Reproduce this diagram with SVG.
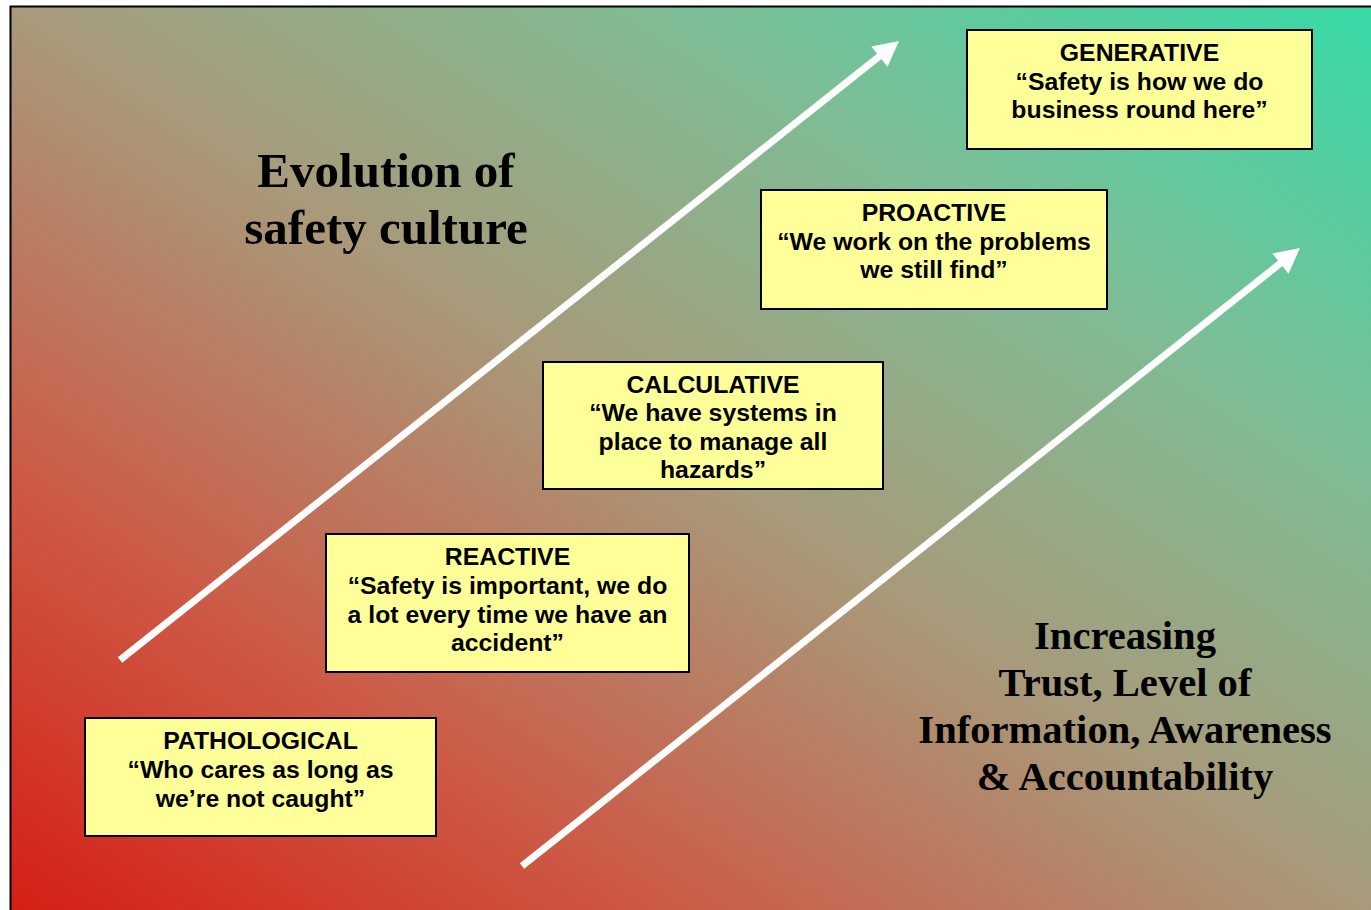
<svg xmlns="http://www.w3.org/2000/svg" width="1371" height="910" viewBox="0 0 1371 910">
<defs>
<linearGradient id="bg" x1="0" y1="1" x2="1" y2="0">
<stop offset="0" stop-color="#d61e14"/>
<stop offset="0.25" stop-color="#cc5c48"/>
<stop offset="0.5" stop-color="#a89a7a"/>
<stop offset="0.75" stop-color="#7cbe96"/>
<stop offset="1" stop-color="#36daa8"/>
</linearGradient>
<style>
.box{fill:#ffff99;stroke:#000;stroke-width:2}
.bt{font-family:"Liberation Sans",Arial,sans-serif;font-weight:bold;font-size:24.8px;fill:#000;text-anchor:middle}
.tt{font-family:"Liberation Serif","Times New Roman",serif;font-weight:bold;fill:#000;text-anchor:middle}
.shaft{stroke:#fff;stroke-width:7;fill:none}
.head{fill:#fff}
</style>
</defs>
<rect x="0" y="0" width="1371" height="910" fill="#fff"/>
<rect x="10.5" y="6.5" width="1370" height="910" fill="url(#bg)" stroke="#000" stroke-width="2"/>

<g id="connectors">
<line class="shaft" x1="120" y1="660" x2="881" y2="55"/>
<polygon class="head" points="899,41 887.5,66.7 871.3,46.4"/>
<line class="shaft" x1="522" y1="866" x2="1282" y2="262"/>
<polygon class="head" points="1300,248 1288.5,273.7 1272.3,253.4"/>
</g>

<g id="title">
<text class="tt" font-size="49" x="386" y="187">Evolution of</text>
<text class="tt" font-size="49" x="386" y="244">safety culture</text>
</g>

<g id="increasing">
<text class="tt" font-size="40.6" x="1125" y="649">Increasing</text>
<text class="tt" font-size="40.6" x="1125" y="696">Trust, Level of</text>
<text class="tt" font-size="40.6" x="1125" y="743">Information, Awareness</text>
<text class="tt" font-size="40.6" x="1125" y="790">&amp; Accountability</text>
</g>

<g id="pathological">
<rect class="box" x="85" y="718" width="351" height="118"/>
<text class="bt" x="260.5" y="749">PATHOLOGICAL</text>
<text class="bt" x="260.5" y="778">“Who cares as long as</text>
<text class="bt" x="260.5" y="807">we’re not caught”</text>
</g>

<g id="reactive">
<rect class="box" x="326" y="534" width="363" height="138"/>
<text class="bt" x="507.5" y="565">REACTIVE</text>
<text class="bt" x="507.5" y="594">“Safety is important, we do</text>
<text class="bt" x="507.5" y="623">a lot every time we have an</text>
<text class="bt" x="507.5" y="651">accident”</text>
</g>

<g id="calculative">
<rect class="box" x="543" y="362" width="340" height="127"/>
<text class="bt" x="713" y="393">CALCULATIVE</text>
<text class="bt" x="713" y="421">“We have systems in</text>
<text class="bt" x="713" y="450">place to manage all</text>
<text class="bt" x="713" y="478">hazards”</text>
</g>

<g id="proactive">
<rect class="box" x="761" y="190" width="346" height="119"/>
<text class="bt" x="934" y="221">PROACTIVE</text>
<text class="bt" x="934" y="250">“We work on the problems</text>
<text class="bt" x="934" y="278">we still find”</text>
</g>

<g id="generative">
<rect class="box" x="967" y="30" width="345" height="119"/>
<text class="bt" x="1139.5" y="61">GENERATIVE</text>
<text class="bt" x="1139.5" y="90">“Safety is how we do</text>
<text class="bt" x="1139.5" y="118">business round here”</text>
</g>
</svg>
